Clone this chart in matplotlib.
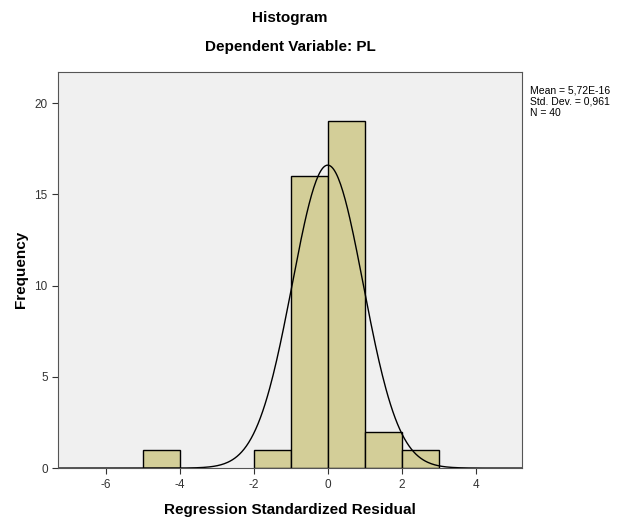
import numpy as np
import matplotlib.pyplot as plt

plt.rcParams['font.family'] = ['Liberation Sans', 'DejaVu Sans']
plt.rcParams['axes.unicode_minus'] = False

# histogram bins (left edges) and counts
bin_left = [-5, -2, -1, 0, 1, 2]
counts = [1, 1, 16, 19, 2, 1]
bin_width = 1.0

mean = 5.72e-16
std = 0.961
n = 40

fig = plt.figure(figsize=(6.25, 5.23), dpi=100)
ax = fig.add_axes([0.093, 0.105, 0.742, 0.758])
ax.set_facecolor('#f0f0f0')

ax.bar(bin_left, counts, width=bin_width, align='edge',
       color='#d3ce98', edgecolor='black', linewidth=1)

# fitted normal curve
xs = np.linspace(-7.29, 5.25, 400)
ys = n * bin_width / (std * np.sqrt(2 * np.pi)) * np.exp(-0.5 * ((xs - mean) / std) ** 2)
ax.plot(xs, ys, color='black', linewidth=1)

ax.set_xlim(-7.29, 5.25)
ax.set_ylim(0, 21.73)
ax.set_xticks([-6, -4, -2, 0, 2, 4])
ax.set_yticks([0, 5, 10, 15, 20])
ax.tick_params(labelsize=8.5, length=4, color='#333333', labelcolor='#333333')
for s in ax.spines.values():
    s.set_color('#555555')

ax.set_xlabel('Regression Standardized Residual', fontsize=11, fontweight='bold', labelpad=9)
ax.set_ylabel('Frequency', fontsize=11, fontweight='bold', labelpad=5)

fig.text(0.464, 0.966, 'Histogram', ha='center', va='center', fontsize=11, fontweight='bold')
fig.text(0.464, 0.91, 'Dependent Variable: PL', ha='center', va='center', fontsize=11, fontweight='bold')

fig.text(0.848, 0.837, 'Mean = 5,72E-16\nStd. Dev. = 0,961\nN = 40',
         ha='left', va='top', fontsize=7.5, linespacing=1.15)

fig.savefig('out.png')
